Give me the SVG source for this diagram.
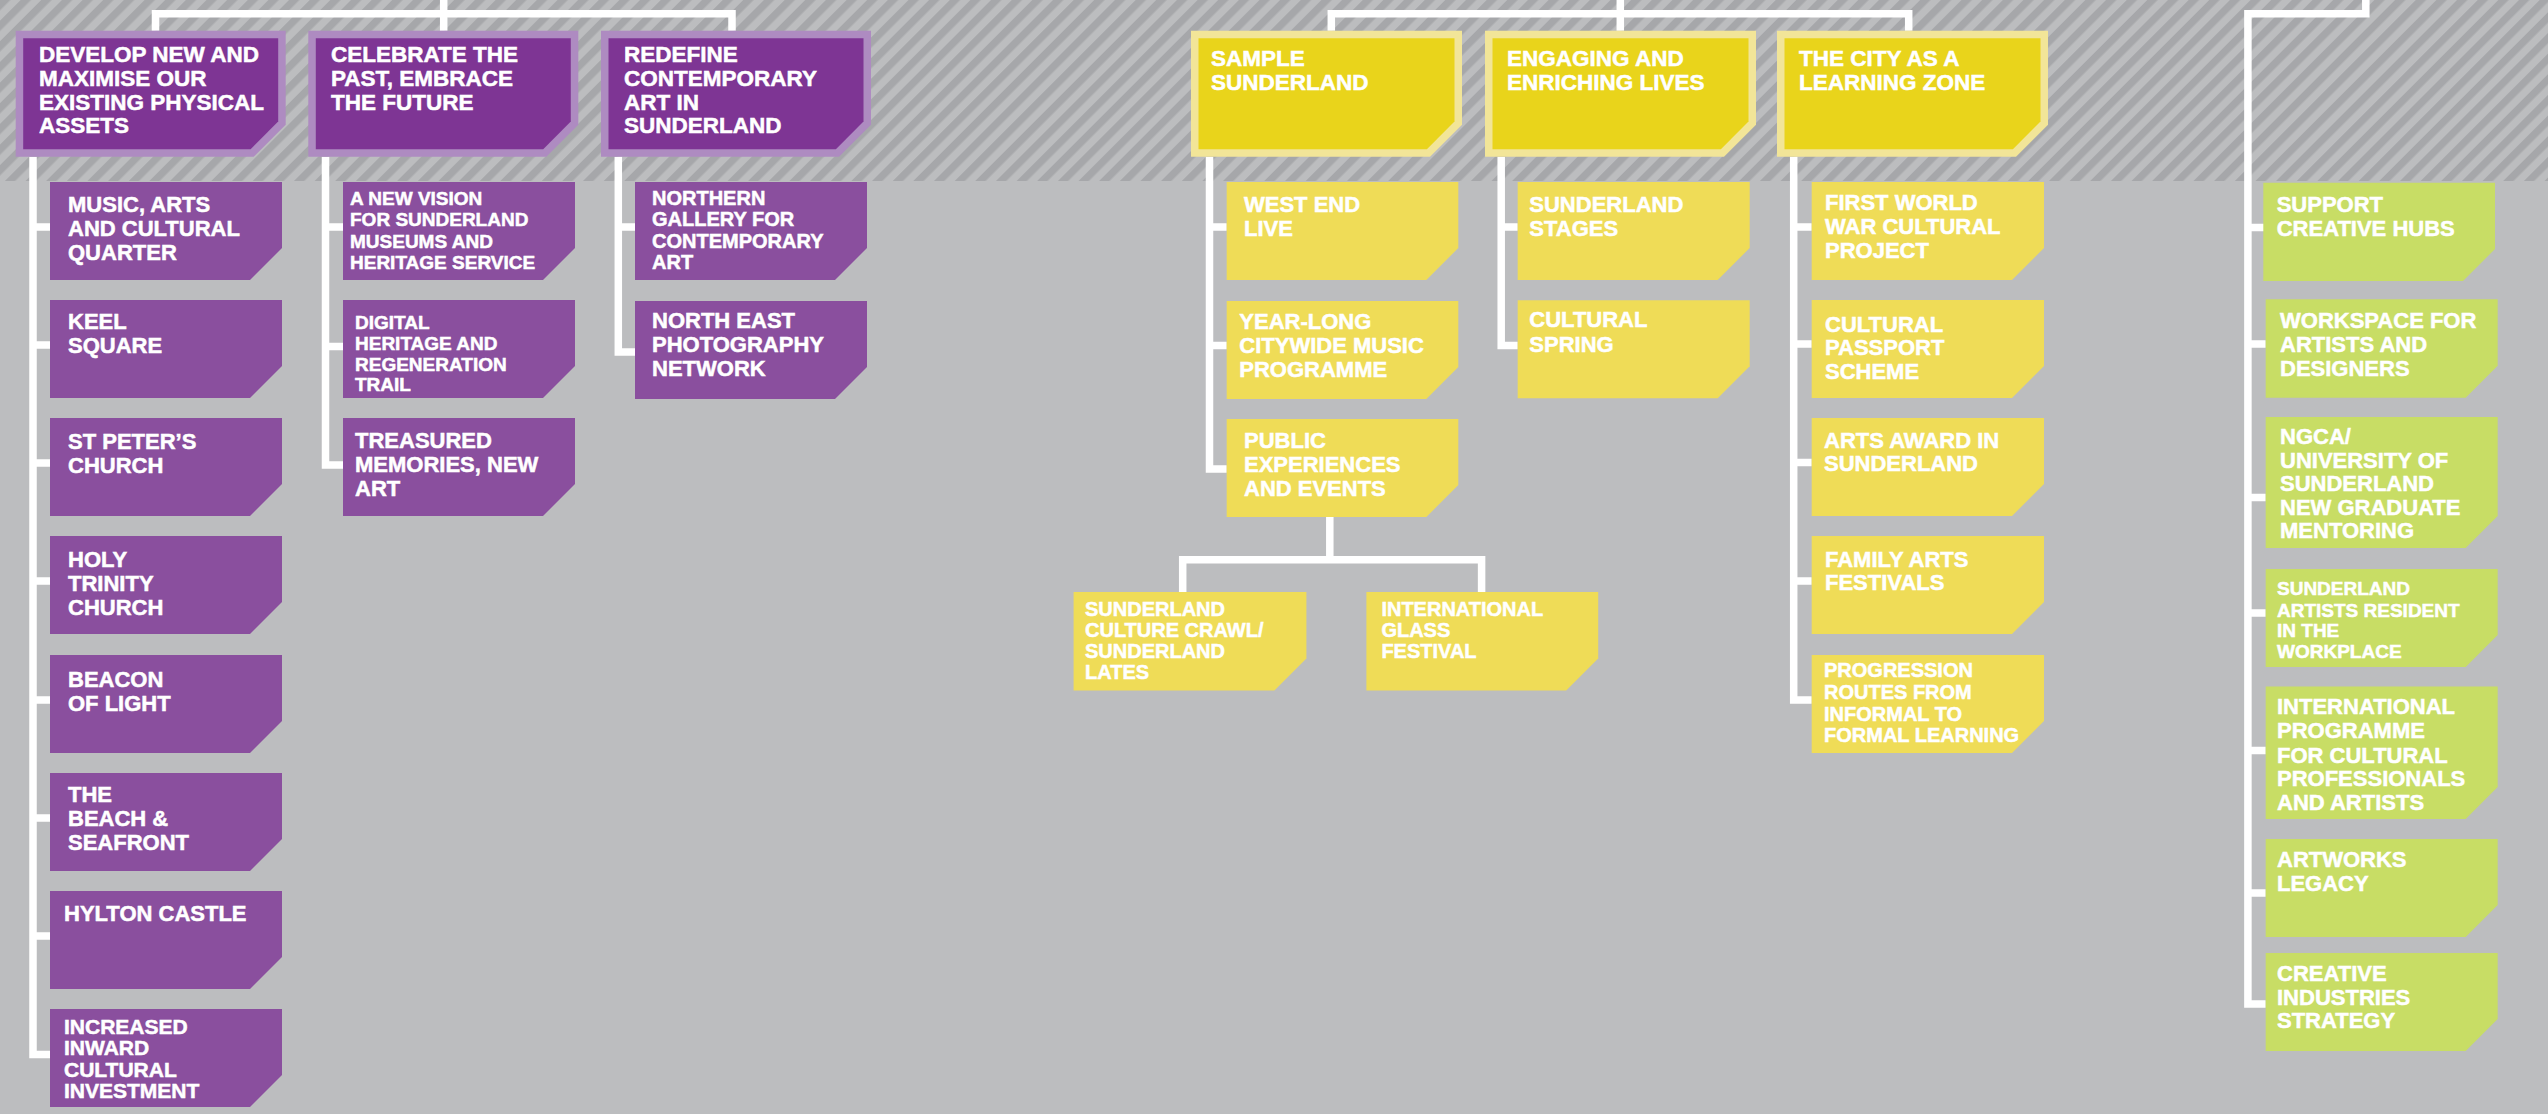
<svg xmlns="http://www.w3.org/2000/svg" width="2548" height="1114" viewBox="0 0 2548 1114">
<defs>
<pattern id="hatch" patternUnits="userSpaceOnUse" width="14.6" height="14.6" patternTransform="rotate(45)">
<rect x="0" y="0" width="14.6" height="14.6" fill="#bcbdbf"/>
<rect x="0" y="0" width="7.3" height="14.6" fill="#a6a7aa"/>
</pattern>
<style>
.ptO{fill:#ae8bc1}.ptI{fill:#7e3594}.pc{fill:#8a4f9e}
.ytO{fill:#f2e598}.ytI{fill:#e9d41b}.yc{fill:#efdc57}
.gc{fill:#c8dd65}
.conn{fill:none;stroke:#fff;stroke-width:7.5;stroke-linejoin:miter;stroke-linecap:butt}
text{font-family:"Liberation Sans",Arial,sans-serif;font-weight:700;fill:#fff;stroke:#fff;stroke-width:0.5;font-size:22px}
.h{font-size:22.5px}.s19{font-size:19px}.s20{font-size:20px}.s21{font-size:21px}
</style>
</defs>
<rect width="2548" height="1114" fill="#bcbdbf"/>
<rect width="2548" height="181" fill="url(#hatch)"/>

<g id="connectors">
<path class="conn" d="M155.5 30.7 V13.7 H732 V30.7 M443.7 0 V30.7"/>
<path class="conn" d="M33 156.7 V1054.5 H50 M33 227 H50 M33 345 H50 M33 463 H50 M33 581 H50 M33 700 H50 M33 818 H50 M33 936 H50"/>
<path class="conn" d="M325.5 156.7 V465 H343 M325.5 227 H343 M325.5 346.5 H343"/>
<path class="conn" d="M618.3 156.7 V352 H635 M618.3 227 H635"/>
<path class="conn" d="M1331.3 30.7 V13.7 H1908.7 V30.7 M1620.3 0 V30.7"/>
<path class="conn" d="M1209.5 156.7 V469 H1226.7 M1209.5 227 H1226.7 M1209.5 345.5 H1226.7"/>
<path class="conn" d="M1501.2 156.7 V345.5 H1517.7 M1501.2 227 H1517.7"/>
<path class="conn" d="M1793.7 156.7 V700 H1811.7 M1793.7 227 H1811.7 M1793.7 344 H1811.7 M1793.7 462.5 H1811.7 M1793.7 581 H1811.7"/>
<path class="conn" d="M1329.8 517 V559.7 M1182.7 592 V559.7 H1481.6 V592"/>
<path class="conn" d="M2365.8 0 V13.7 H2247.9 V1004 H2265.7 M2247.9 227.5 H2265.7 M2247.9 344 H2265.7 M2247.9 497.5 H2265.7 M2247.9 613 H2265.7 M2247.9 750.5 H2265.7 M2247.9 893 H2265.7"/>
</g>

<!-- Purple top nodes -->
<g id="p-top-1">
<path class="ptO" d="M15.7 30.7 H285.7 V124.7 L253.7 156.7 H15.7 Z"/>
<path class="ptI" d="M23.2 38.2 H278.2 V121.6 L250.6 149.2 H23.2 Z"/>
<text class="h"><tspan x="39" y="61.7">DEVELOP NEW AND</tspan><tspan x="39" y="85.7">MAXIMISE OUR</tspan><tspan x="39" y="109.5">EXISTING PHYSICAL</tspan><tspan x="39" y="133.3">ASSETS</tspan></text>
</g>
<g id="p-top-2">
<path class="ptO" d="M308.3 30.7 H578.3 V124.7 L546.3 156.7 H308.3 Z"/>
<path class="ptI" d="M315.8 38.2 H570.8 V121.6 L543.2 149.2 H315.8 Z"/>
<text class="h"><tspan x="331" y="61.7">CELEBRATE THE</tspan><tspan x="331" y="85.7">PAST, EMBRACE</tspan><tspan x="331" y="109.5">THE FUTURE</tspan></text>
</g>
<g id="p-top-3">
<path class="ptO" d="M601 30.7 H871 V124.7 L839 156.7 H601 Z"/>
<path class="ptI" d="M608.5 38.2 H863.5 V121.6 L835.9 149.2 H608.5 Z"/>
<text class="h"><tspan x="624" y="61.7">REDEFINE</tspan><tspan x="624" y="85.7">CONTEMPORARY</tspan><tspan x="624" y="109.5">ART IN</tspan><tspan x="624" y="133.3">SUNDERLAND</tspan></text>
</g>

<!-- Purple column 1 -->
<g id="p1-1"><path class="pc" d="M50 182 H282 V248 L250 280 H50 Z"/>
<text><tspan x="68" y="212.3">MUSIC, ARTS</tspan><tspan x="68" y="236">AND CULTURAL</tspan><tspan x="68" y="260">QUARTER</tspan></text></g>
<g id="p1-2"><path class="pc" d="M50 300 H282 V366 L250 398 H50 Z"/>
<text><tspan x="68" y="329.3">KEEL</tspan><tspan x="68" y="352.7">SQUARE</tspan></text></g>
<g id="p1-3"><path class="pc" d="M50 418 H282 V484 L250 516 H50 Z"/>
<text><tspan x="68" y="449">ST PETER’S</tspan><tspan x="68" y="473">CHURCH</tspan></text></g>
<g id="p1-4"><path class="pc" d="M50 536 H282 V602 L250 634 H50 Z"/>
<text><tspan x="68" y="567">HOLY</tspan><tspan x="68" y="591">TRINITY</tspan><tspan x="68" y="615">CHURCH</tspan></text></g>
<g id="p1-5"><path class="pc" d="M50 655 H282 V721 L250 753 H50 Z"/>
<text><tspan x="68" y="686.5">BEACON</tspan><tspan x="68" y="710.5">OF LIGHT</tspan></text></g>
<g id="p1-6"><path class="pc" d="M50 773 H282 V839 L250 871 H50 Z"/>
<text><tspan x="68" y="802">THE</tspan><tspan x="68" y="826">BEACH &amp;</tspan><tspan x="68" y="850">SEAFRONT</tspan></text></g>
<g id="p1-7"><path class="pc" d="M50 891 H282 V957 L250 989 H50 Z"/>
<text><tspan x="64" y="921">HYLTON CASTLE</tspan></text></g>
<g id="p1-8"><path class="pc" d="M50 1009 H282 V1075 L250 1107 H50 Z"/>
<text class="s21"><tspan x="64" y="1033.5">INCREASED</tspan><tspan x="64" y="1055">INWARD</tspan><tspan x="64" y="1076.5">CULTURAL</tspan><tspan x="64" y="1098">INVESTMENT</tspan></text></g>

<!-- Purple column 2 -->
<g id="p2-1"><path class="pc" d="M343 182 H575 V248 L543 280 H343 Z"/>
<text class="s19"><tspan x="350" y="204.5">A NEW VISION</tspan><tspan x="350" y="226">FOR SUNDERLAND</tspan><tspan x="350" y="247.5">MUSEUMS AND</tspan><tspan x="350" y="268.5">HERITAGE SERVICE</tspan></text></g>
<g id="p2-2"><path class="pc" d="M343 300 H575 V366 L543 398 H343 Z"/>
<text class="s19"><tspan x="355" y="328.5">DIGITAL</tspan><tspan x="355" y="350">HERITAGE AND</tspan><tspan x="355" y="370.5">REGENERATION</tspan><tspan x="355" y="391">TRAIL</tspan></text></g>
<g id="p2-3"><path class="pc" d="M343 418 H575 V484 L543 516 H343 Z"/>
<text><tspan x="355" y="448">TREASURED</tspan><tspan x="355" y="472">MEMORIES, NEW</tspan><tspan x="355" y="496">ART</tspan></text></g>

<!-- Purple column 3 -->
<g id="p3-1"><path class="pc" d="M635 182 H867 V248 L835 280 H635 Z"/>
<text class="s20"><tspan x="652" y="204.5">NORTHERN</tspan><tspan x="652" y="226">GALLERY FOR</tspan><tspan x="652" y="247.5">CONTEMPORARY</tspan><tspan x="652" y="268.5">ART</tspan></text></g>
<g id="p3-2"><path class="pc" d="M635 301 H867 V367 L835 399 H635 Z"/>
<text><tspan x="652" y="327.5">NORTH EAST</tspan><tspan x="652" y="351.5">PHOTOGRAPHY</tspan><tspan x="652" y="375.5">NETWORK</tspan></text></g>

<!-- Yellow top nodes -->
<g id="y-top-1">
<path class="ytO" d="M1191 30.7 H1462 V124.7 L1430 156.7 H1191 Z"/>
<path class="ytI" d="M1198.5 38.2 H1454.5 V121.6 L1426.9 149.2 H1198.5 Z"/>
<text class="h"><tspan x="1211" y="65.5">SAMPLE</tspan><tspan x="1211" y="89.5">SUNDERLAND</tspan></text>
</g>
<g id="y-top-2">
<path class="ytO" d="M1485 30.7 H1756 V124.7 L1724 156.7 H1485 Z"/>
<path class="ytI" d="M1492.5 38.2 H1748.5 V121.6 L1720.9 149.2 H1492.5 Z"/>
<text class="h"><tspan x="1507" y="65.5">ENGAGING AND</tspan><tspan x="1507" y="89.5">ENRICHING LIVES</tspan></text>
</g>
<g id="y-top-3">
<path class="ytO" d="M1777 30.7 H2048 V124.7 L2016 156.7 H1777 Z"/>
<path class="ytI" d="M1784.5 38.2 H2040.5 V121.6 L2012.9 149.2 H1784.5 Z"/>
<text class="h"><tspan x="1799" y="65.5">THE CITY AS A</tspan><tspan x="1799" y="89.5">LEARNING ZONE</tspan></text>
</g>

<!-- Yellow column 1 -->
<g id="y1-1"><path class="yc" d="M1226.7 182 H1458.3 V248 L1426.3 280 H1226.7 Z"/>
<text><tspan x="1244" y="212.3">WEST END</tspan><tspan x="1244" y="236">LIVE</tspan></text></g>
<g id="y1-2"><path class="yc" d="M1226.7 301 H1458.3 V367 L1426.3 399 H1226.7 Z"/>
<text><tspan x="1239.3" y="329.3">YEAR-LONG</tspan><tspan x="1239.3" y="352.7">CITYWIDE MUSIC</tspan><tspan x="1239.3" y="376.7">PROGRAMME</tspan></text></g>
<g id="y1-3"><path class="yc" d="M1226.7 419 H1458.3 V485 L1426.3 517 H1226.7 Z"/>
<text><tspan x="1244" y="448.3">PUBLIC</tspan><tspan x="1244" y="471.7">EXPERIENCES</tspan><tspan x="1244" y="496">AND EVENTS</tspan></text></g>
<g id="y1-3a"><path class="yc" d="M1073.6 592 H1306.4 V658.5 L1274.4 690.5 H1073.6 Z"/>
<text class="s20"><tspan x="1085" y="615.7">SUNDERLAND</tspan><tspan x="1085" y="636.7">CULTURE CRAWL/</tspan><tspan x="1085" y="657.5">SUNDERLAND</tspan><tspan x="1085" y="679">LATES</tspan></text></g>
<g id="y1-3b"><path class="yc" d="M1366.4 592 H1598.2 V658.5 L1566.2 690.5 H1366.4 Z"/>
<text class="s20"><tspan x="1381.4" y="615.7">INTERNATIONAL</tspan><tspan x="1381.4" y="636.7">GLASS</tspan><tspan x="1381.4" y="657.5">FESTIVAL</tspan></text></g>

<!-- Yellow column 2 -->
<g id="y2-1"><path class="yc" d="M1517.7 182 H1749.7 V248 L1717.7 280 H1517.7 Z"/>
<text><tspan x="1529.3" y="212.3">SUNDERLAND</tspan><tspan x="1529.3" y="236">STAGES</tspan></text></g>
<g id="y2-2"><path class="yc" d="M1517.7 300.3 H1749.7 V366.3 L1717.7 398.3 H1517.7 Z"/>
<text><tspan x="1529.3" y="327">CULTURAL</tspan><tspan x="1529.3" y="351.5">SPRING</tspan></text></g>

<!-- Yellow column 3 -->
<g id="y3-1"><path class="yc" d="M1811.7 182 H2044 V248 L2012 280 H1811.7 Z"/>
<text><tspan x="1825" y="210">FIRST WORLD</tspan><tspan x="1825" y="234">WAR CULTURAL</tspan><tspan x="1825" y="258.3">PROJECT</tspan></text></g>
<g id="y3-2"><path class="yc" d="M1811.7 300 H2044 V366 L2012 398 H1811.7 Z"/>
<text><tspan x="1825" y="331.7">CULTURAL</tspan><tspan x="1825" y="355">PASSPORT</tspan><tspan x="1825" y="379">SCHEME</tspan></text></g>
<g id="y3-3"><path class="yc" d="M1811.7 418 H2044 V484 L2012 516 H1811.7 Z"/>
<text><tspan x="1824" y="447.5">ARTS AWARD IN</tspan><tspan x="1824" y="471.4">SUNDERLAND</tspan></text></g>
<g id="y3-4"><path class="yc" d="M1811.7 536 H2044 V602 L2012 634 H1811.7 Z"/>
<text><tspan x="1825" y="566.7">FAMILY ARTS</tspan><tspan x="1825" y="590">FESTIVALS</tspan></text></g>
<g id="y3-5"><path class="yc" d="M1811.7 655 H2044 V721 L2012 753 H1811.7 Z"/>
<text class="s20"><tspan x="1824" y="677.3">PROGRESSION</tspan><tspan x="1824" y="699.3">ROUTES FROM</tspan><tspan x="1824" y="721">INFORMAL TO</tspan><tspan x="1824" y="741.7">FORMAL LEARNING</tspan></text></g>

<!-- Green column -->
<g id="g-1"><path class="gc" d="M2263.3 182.7 H2495 V249 L2463 281 H2263.3 Z"/>
<text><tspan x="2276.7" y="212.3">SUPPORT</tspan><tspan x="2276.7" y="236">CREATIVE HUBS</tspan></text></g>
<g id="g-2"><path class="gc" d="M2265.7 299.3 H2497.7 V365.7 L2465.7 397.7 H2265.7 Z"/>
<text><tspan x="2280" y="328.3">WORKSPACE FOR</tspan><tspan x="2280" y="351.7">ARTISTS AND</tspan><tspan x="2280" y="375.7">DESIGNERS</tspan></text></g>
<g id="g-3"><path class="gc" d="M2265.7 417 H2497.7 V516 L2465.7 548 H2265.7 Z"/>
<text><tspan x="2280" y="444">NGCA/</tspan><tspan x="2280" y="467.5">UNIVERSITY OF</tspan><tspan x="2280" y="491">SUNDERLAND</tspan><tspan x="2280" y="514.5">NEW GRADUATE</tspan><tspan x="2280" y="538">MENTORING</tspan></text></g>
<g id="g-4"><path class="gc" d="M2265.7 569 H2497.7 V635 L2465.7 667 H2265.7 Z"/>
<text class="s19"><tspan x="2277" y="595.3">SUNDERLAND</tspan><tspan x="2277" y="616.5">ARTISTS RESIDENT</tspan><tspan x="2277" y="637">IN THE</tspan><tspan x="2277" y="658.2">WORKPLACE</tspan></text></g>
<g id="g-5"><path class="gc" d="M2265.7 686.5 H2497.7 V787 L2465.7 819 H2265.7 Z"/>
<text><tspan x="2277" y="714.4">INTERNATIONAL</tspan><tspan x="2277" y="738.4">PROGRAMME</tspan><tspan x="2277" y="762.5">FOR CULTURAL</tspan><tspan x="2277" y="786.1">PROFESSIONALS</tspan><tspan x="2277" y="810.2">AND ARTISTS</tspan></text></g>
<g id="g-6"><path class="gc" d="M2265.7 839 H2497.7 V905 L2465.7 937 H2265.7 Z"/>
<text><tspan x="2277" y="867.4">ARTWORKS</tspan><tspan x="2277" y="891.4">LEGACY</tspan></text></g>
<g id="g-7"><path class="gc" d="M2265.7 953 H2497.7 V1019 L2465.7 1051 H2265.7 Z"/>
<text><tspan x="2277" y="981.2">CREATIVE</tspan><tspan x="2277" y="1004.5">INDUSTRIES</tspan><tspan x="2277" y="1028.2">STRATEGY</tspan></text></g>
</svg>
